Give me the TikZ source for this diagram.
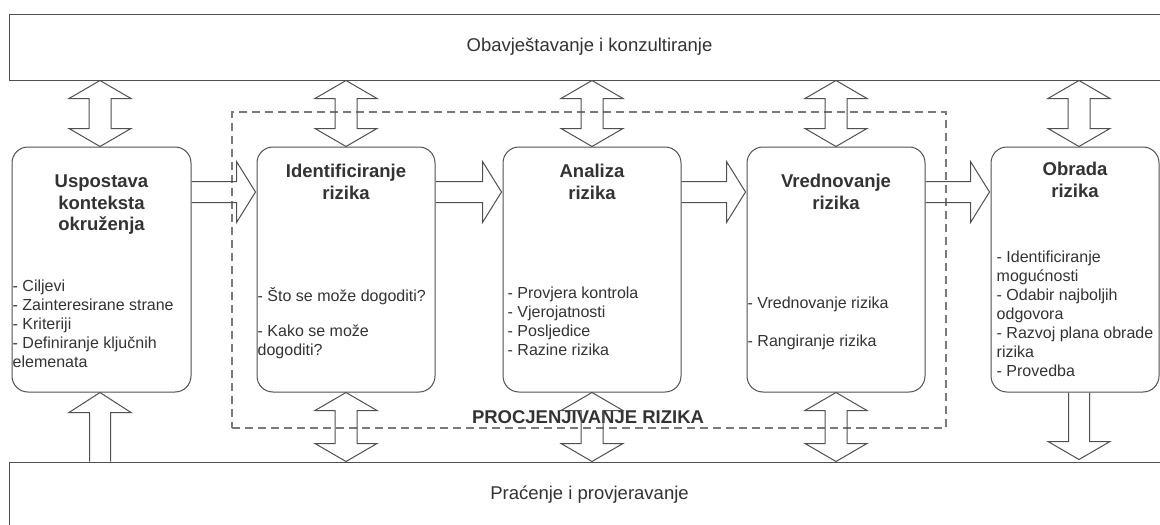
\documentclass[tikz,border=0pt]{standalone}
\usepackage{fontspec}
\setmainfont{Liberation Sans}
\usetikzlibrary{calc}
\definecolor{ln}{HTML}{505050}
\definecolor{tx}{HTML}{333333}
\definecolor{dsh}{HTML}{7A7A7A}
\tikzset{
 box/.style={draw=ln, line width=1pt, rounded corners=16pt, minimum height=245pt, inner sep=0pt},
 band/.style={draw=ln, line width=1pt, minimum height=66pt, minimum width=1161pt, inner sep=0pt, text=tx, font=\fontsize{18.5}{22}\selectfont},
 title/.style={anchor=north, inner sep=0pt, align=center, text=tx, font=\fontsize{18.5}{21.5}\selectfont\bfseries},
 body/.style={anchor=north west, inner sep=0pt, align=left, text=tx, font=\fontsize{16}{19}\selectfont},
 blk/.style={draw=ln, line width=1pt, line join=miter},
 dashbox/.style={draw=dsh, line width=1.2pt, dash pattern=on 8pt off 5pt, inner sep=0pt},
}
\newcommand\harr[2]{%
 \draw[blk] ($(#1.north east)+(0,35)$) -- ($(#2.north west)+(-20,35)$) -- ($(#2.north west)+(-20,15)$)
   -- ($(#2.north west)+(-1,45.5)$) -- ($(#2.north west)+(-20,76)$) -- ($(#2.north west)+(-20,56)$)
   -- ($(#1.north east)+(0,56)$);}
\newcommand\vdarr[2]{%
 \draw[blk] (#1) -- ++(31,18) -- ++(-20,0) -- ($(#2)+(11,-18)$) -- ++(20,0) -- (#2)
   -- ++(-31,-18) -- ++(20,0) -- ($(#1)+(-11,18)$) -- ++(-20,0) -- cycle;}
\begin{document}
\begin{tikzpicture}[x=1pt,y=-1pt]
\clip (0,0) rectangle (1160,525);
\fill[white] (0,0) rectangle (1160,525);
% bands
\node[band] (top) at (589.5,47) {Obavještavanje i konzultiranje};
\node[band] (bot) at (589.5,495) {Praćenje i provjeravanje};
% dashed region
\node[dashbox, minimum width=714pt, minimum height=316pt] (pr) at (589,270) {};
\node[anchor=base, inner sep=0pt, text=tx, font=\fontsize{18.5}{22}\selectfont\bfseries] (prl) at (588,423) {PROCJENJIVANJE RIZIKA};
% boxes
\node[box, minimum width=179pt] (b1) at (101.5,269.5) {};
\node[box, minimum width=178pt] (b2) at (346,269.5) {};
\node[box, minimum width=178pt] (b3) at (592,269.5) {};
\node[box, minimum width=178pt] (b4) at (836,269.5) {};
\node[box, minimum width=168pt] (b5) at (1075,269.5) {};
% titles
\node[title] (t1) at ($(b1.north)+(0,26)$) {\rule{0pt}{15pt}Uspostava\\konteksta\\okruženja};
\node[title] (t2) at ($(b2.north)+(0,16)$) {\rule{0pt}{15pt}Identificiranje\\rizika};
\node[title] (t3) at ($(b3.north)+(0,16)$) {\rule{0pt}{15pt}Analiza\\rizika};
\node[title] (t4) at ($(b4.north)+(0,26)$) {\rule{0pt}{15pt}Vrednovanje\\rizika};
\node[title] (t5) at ($(b5.north)+(0,14)$) {\rule{0pt}{15pt}Obrada\\rizika};
% bodies
\node[body] (d1) at ($(b1.north west)+(1,130)$) {\rule{0pt}{15pt}- Ciljevi\\- Zainteresirane strane\\- Kriteriji\\- Definiranje ključnih\\elemenata};
\node[body] (d2) at ($(b2.north west)+(1,140)$) {\rule{0pt}{15pt}- Što se može dogoditi?\\[16pt]- Kako se može\\dogoditi?};
\node[body] (d3) at ($(b3.north west)+(5,137)$) {\rule{0pt}{15pt}- Provjera kontrola\\- Vjerojatnosti\\- Posljedice\\- Razine rizika};
\node[body] (d4) at ($(b4.north west)+(1,147)$) {\rule{0pt}{15pt}- Vrednovanje rizika\\[19pt]- Rangiranje rizika};
\node[body] (d5) at ($(b5.north west)+(6,101)$) {\rule{0pt}{15pt}- Identificiranje\\mogućnosti\\- Odabir najboljih\\odgovora\\- Razvoj plana obrade\\rizika\\- Provedba};
% horizontal arrows
\harr{b1}{b2}
\harr{b2}{b3}
\harr{b3}{b4}
\harr{b4}{b5}
% top double arrows
\coordinate (a1) at ([xshift=-1.5pt]b1.north);
\coordinate (a5) at ([xshift=4pt]b5.north);
\coordinate (a1t) at (a1 |- top.south);
\coordinate (b2t) at (b2.north |- top.south);
\coordinate (b3t) at (b3.north |- top.south);
\coordinate (b4t) at (b4.north |- top.south);
\coordinate (a5t) at (a5 |- top.south);
\vdarr{a1t}{a1}
\vdarr{b2t}{b2.north}
\vdarr{b3t}{b3.north}
\vdarr{b4t}{b4.north}
\vdarr{a5t}{a5}
% bottom double arrows
\coordinate (b2b) at (b2.south |- bot.north);
\coordinate (b3b) at (b3.south |- bot.north);
\coordinate (b4b) at (b4.south |- bot.north);
\vdarr{b2.south}{b2b}
\vdarr{b3.south}{b3b}
\vdarr{b4.south}{b4b}
% single up arrow from monitoring to context
\coordinate (u1) at ([xshift=-1.5pt]b1.south);
\coordinate (u1b) at (u1 |- bot.north);
\draw[blk] ($(u1b)+(-10.5,0)$) -- ($(u1)+(-10.5,20)$) -- ($(u1)+(-31,20)$) -- (u1)
  -- ($(u1)+(31,20)$) -- ($(u1)+(10.5,20)$) -- ($(u1b)+(10.5,0)$);
% single down arrow from treatment to monitoring
\coordinate (v5) at ([xshift=4pt]b5.south);
\coordinate (v5b) at (v5 |- bot.north);
\draw[blk] ($(v5)+(-10.5,0)$) -- ($(v5b)+(-10.5,-20)$) -- ($(v5b)+(-31,-20)$) -- ($(v5b)+(0,-2)$)
  -- ($(v5b)+(31,-20)$) -- ($(v5b)+(10.5,-20)$) -- ($(v5)+(10.5,0)$);
\end{tikzpicture}
\end{document}
